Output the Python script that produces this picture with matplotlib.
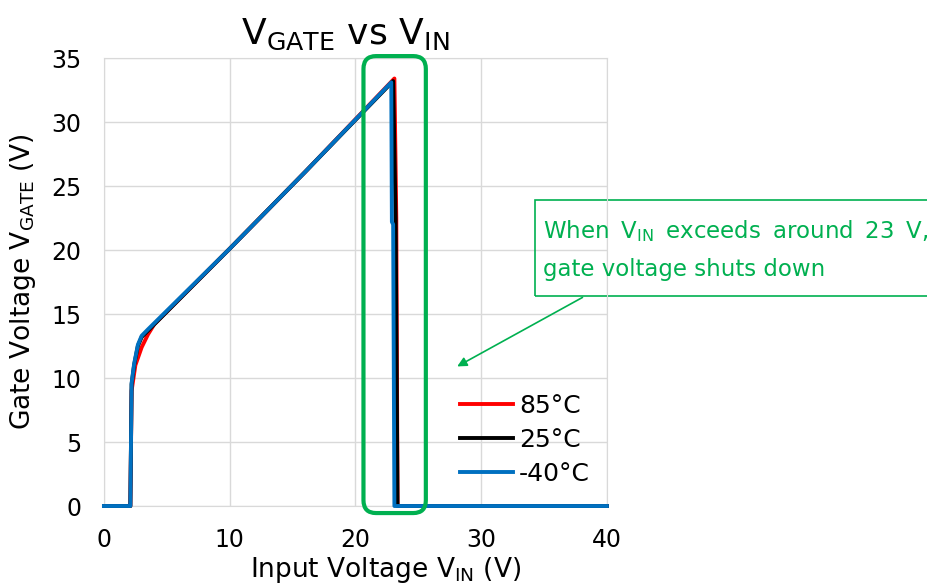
import matplotlib.pyplot as plt
from matplotlib.patches import FancyBboxPatch, Rectangle

plt.rcParams['font.family'] = ['DejaVu Sans']
plt.rcParams['mathtext.default'] = 'regular'

# gate voltage vs input voltage
vin_85 = [0, 2.1, 2.2, 2.5, 3.0, 3.5, 4.0, 10.0, 16.0, 23.1, 23.25, 23.35, 40]
vg_85 = [0, 0, 9.0, 11.0, 12.4, 13.4, 14.2, 20.1, 26.1, 33.4, 22.5, 0, 0]

vin_25 = [0, 2.1, 2.2, 2.4, 2.7, 3.0, 3.5, 10.0, 16.0, 23.0, 23.2, 23.35, 40]
vg_25 = [0, 0, 9.5, 11.0, 12.5, 13.2, 13.7, 20.1, 26.1, 33.2, 22.3, 0, 0]

vin_m40 = [0, 2.1, 2.2, 2.4, 2.7, 3.0, 3.5, 10.0, 16.0, 22.85, 22.9, 23.0, 23.1, 40]
vg_m40 = [0, 0, 9.6, 11.1, 12.6, 13.3, 13.8, 20.1, 26.1, 33.1, 22.2, 22.0, 0, 0]

labels = ['85°C', '25°C', '-40°C']
colors = ['#FF0000', '#000000', '#0070C0']
green = '#00B050'

fig = plt.figure(figsize=(9.28, 5.86), dpi=100)
ax = fig.add_axes([0.112, 0.1365, 0.542, 0.7645])

ax.plot(vin_85, vg_85, color=colors[0], lw=2.8, label=labels[0], zorder=3, clip_on=False)
ax.plot(vin_25, vg_25, color=colors[1], lw=2.8, label=labels[1], zorder=4, clip_on=False)
ax.plot(vin_m40, vg_m40, color=colors[2], lw=2.8, label=labels[2], zorder=5, clip_on=False)

ax.set_xlim(0, 40)
ax.set_ylim(0, 35)
ax.set_xticks(range(0, 41, 10))
ax.set_yticks(range(0, 36, 5))
ax.grid(True, color='#D9D9D9', lw=1.0, zorder=0)
ax.set_axisbelow(True)
for s in ax.spines.values():
    s.set_color('#D9D9D9')
ax.tick_params(length=0, labelsize=17, pad=16)

ax.set_title('V$_{GATE}$ vs V$_{IN}$', fontsize=26, pad=10, x=0.48)
ax.set_xlabel('Input Voltage V$_{IN}$ (V)', fontsize=19)
ax.xaxis.set_label_coords(0.559, -0.11)
ax.set_ylabel('Gate Voltage V$_{GATE}$ (V)', fontsize=19, labelpad=10)

ax.legend(loc='center left', bbox_to_anchor=(0.664, 0.147), frameon=False,
          fontsize=18, handlelength=2.1, handletextpad=0.25, labelspacing=0.4)

# highlight around shutdown
hl = FancyBboxPatch((20.64, -0.55), 25.6 - 20.64, 35.15 + 0.55,
                    boxstyle='round,pad=0,rounding_size=1.0',
                    fill=False, ec=green, lw=3, clip_on=False, zorder=6)
ax.add_patch(hl)

# callout box
box = Rectangle((34.3, 16.4), 40, 7.5, fill=False, ec=green, lw=1.2, clip_on=False)
ax.add_patch(box)
sp = ' \u2009'
ax.text(34.9, 21.5, sp.join(['When', 'V$_{IN}$', 'exceeds', 'around', '23', 'V,']),
        color=green, fontsize=16.5, va='center', ha='left', clip_on=False)
ax.text(34.9, 18.5, 'gate voltage shuts down', color=green, fontsize=16.5,
        va='center', ha='left', clip_on=False)
ax.annotate('', xy=(27.9, 10.8), xytext=(38.25, 16.4),
            arrowprops=dict(arrowstyle='-|>', color=green, lw=1.2, mutation_scale=14),
            annotation_clip=False)

fig.savefig('out.png', dpi=100)
